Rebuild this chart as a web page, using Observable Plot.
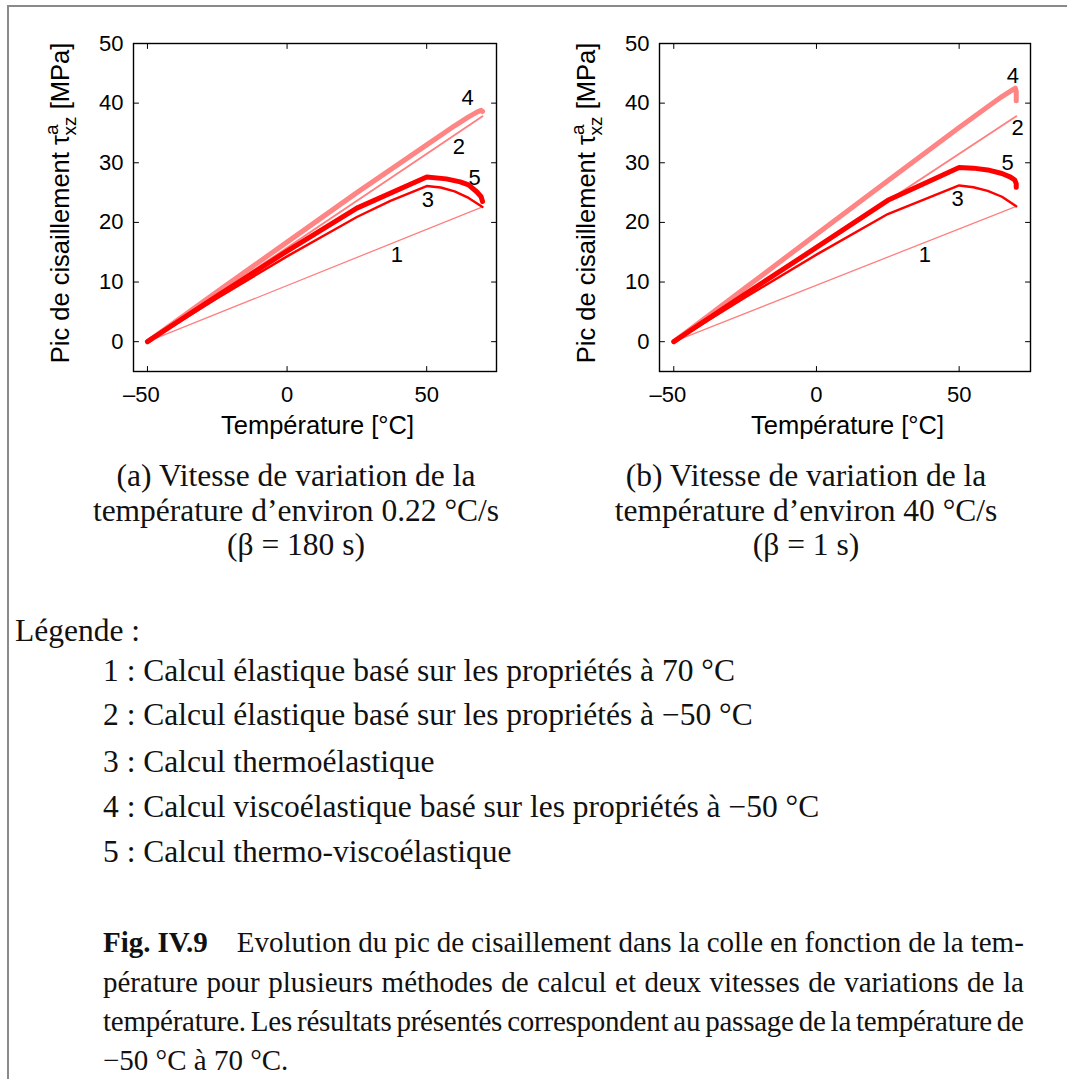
<!DOCTYPE html>
<html><head><meta charset="utf-8">
<script src="https://cdn.jsdelivr.net/npm/d3@7"></script>
<script src="https://cdn.jsdelivr.net/npm/@observablehq/plot@0.6"></script>
<style>
body{margin:0;background:#fff;}
#page{position:relative;width:1067px;height:1079px;overflow:hidden;background:#fff;}
#border{position:absolute;left:7px;top:5px;width:1100px;height:1100px;border-top:2px solid #8a8a8a;border-left:2px solid #8a8a8a;}
.plot{position:absolute;top:0;}
#txt{position:absolute;left:0;top:0;}
</style></head>
<body><div id="page"><div id="border"></div>
<svg id="txt" width="1067" height="1079"></svg>
<div id="pa" class="plot" style="left:0px"></div>
<div id="pb" class="plot" style="left:533px"></div>
</div>
<script>
// ---- data ----
const xTicks = [-50, 0, 50];
const yTicks = [0, 10, 20, 30, 40, 50];
const seriesIds = [1, 2, 3, 4, 5];

// panel (a) : 0.22 °C/s
const a1T = [-50, 70];
const a1V = [0, 22.6];
const a2T = [-50, 70];
const a2V = [0, 37.8];
const a3T = [-50, -25, 0, 25, 37, 50, 55, 60, 65, 70];
const a3V = [0, 7.3, 14.3, 20.9, 23.6, 26.1, 25.85, 25.2, 24.1, 22.6];
const a4T = [-50, -25, 0, 25, 50, 60, 65, 68, 69.5, 70];
const a4V = [0, 8.4, 16.7, 25.0, 33.0, 36.2, 37.7, 38.5, 38.8, 38.6];
const a5T = [-50, -25, 0, 25, 50, 57, 62, 65, 68, 69.5, 70];
const a5V = [0, 7.7, 15.2, 22.4, 27.6, 27.3, 26.8, 26.3, 25.1, 24.3, 23.5];
const aLabelT = [39.3, 61.5, 50.4, 64.7, 67.2];
const aLabelV = [14.6, 32.6, 23.7, 40.8, 27.5];

// panel (b) : 40 °C/s
const b1T = [-50, 70];
const b1V = [0, 22.7];
const b2T = [-50, 70];
const b2V = [0, 37.8];
const b3T = [-50, -25, 0, 25, 50, 55, 60, 65, 70];
const b3V = [0, 7.4, 14.6, 21.4, 26.2, 25.9, 25.3, 24.3, 22.7];
const b4T = [-50, -25, 0, 25, 50, 60, 65, 68, 69.7, 70, 70];
const b4V = [0, 9.0, 18.0, 27.0, 35.9, 39.4, 41.1, 42.0, 42.5, 42.0, 40.4];
const b5T = [-50, -25, 0, 25, 50, 55, 60, 65, 68, 69.5, 70, 70];
const b5V = [0, 8.0, 15.8, 23.7, 29.2, 29.1, 28.8, 28.2, 27.6, 27.1, 26.5, 25.9];
const bLabelT = [38.0, 70.5, 49.5, 68.8, 67.0];
const bLabelV = [14.6, 35.9, 24.0, 44.5, 29.9];

const captionA = ["(a) Vitesse de variation de la", "température d’environ 0.22 °C/s", "(β = 180 s)"];
const captionB = ["(b) Vitesse de variation de la", "température d’environ 40 °C/s", "(β = 1 s)"];
const legendTitle = "Légende :";
const legendItems = [
  "1 : Calcul élastique basé sur les propriétés à 70 °C",
  "2 : Calcul élastique basé sur les propriétés à −50 °C",
  "3 : Calcul thermoélastique",
  "4 : Calcul viscoélastique basé sur les propriétés à −50 °C",
  "5 : Calcul thermo-viscoélastique"
];
const figLabel = "Fig. IV.9";
const figLines = [
  "Evolution du pic de cisaillement dans la colle en fonction de la tem-",
  "pérature pour plusieurs méthodes de calcul et deux vitesses de variations de la",
  "température. Les résultats présentés correspondent au passage de la température de",
  "−50 °C à 70 °C."
];

// ---- styles ----
const styleOf = {
  1: {stroke: "#ff8080", w: 1.3},
  2: {stroke: "#ff8080", w: 1.9},
  3: {stroke: "#ff0000", w: 2.4},
  4: {stroke: "#ff8484", w: 5},
  5: {stroke: "#ff0000", w: 5}
};
const drawOrder = [1, 2, 4, 3, 5];
const SANS = "'Liberation Sans', Arial, Helvetica, sans-serif";
const SERIF = "'Liberation Serif', 'Times New Roman', serif";
const tickShape = {draw(ctx, l) { ctx.moveTo(0, 0); ctx.lineTo(0, -l); }};

function panel(curves, lt, lv, marginLeft, width, ylabelX) {
  const rows = curves.flatMap(([id, T, V]) => T.map((t, i) => ({id, t, v: V[i]})));
  const labels = seriesIds.map((id, i) => ({id, t: lt[i], v: lv[i]}));
  const H = 450, mt = 43, mb = 79, mr = 30;
  const vecs = (anchor, rot, ch) => Plot.vector(ch === "x" ? xTicks : yTicks,
    {[ch]: d => d, frameAnchor: anchor, rotate: rot, length: 5, anchor: "start", shape: tickShape, stroke: "#000", strokeWidth: 1});
  const svg = Plot.plot({
    width, height: H, marginLeft, marginRight: mr, marginTop: mt, marginBottom: mb,
    x: {domain: [-55, 75]},
    y: {domain: [-5, 50]},
    style: {fontFamily: SANS, fontSize: "22px", color: "#000", background: "transparent", overflow: "visible"},
    marks: [
      ...drawOrder.map(id => Plot.line(rows.filter(d => d.id === id), {
        x: "t", y: "v", stroke: styleOf[id].stroke, strokeWidth: styleOf[id].w,
        strokeLinejoin: "round", strokeLinecap: "round"})),
      Plot.text(labels, {x: "t", y: "v", text: "id", fill: "#000", fontSize: 22, fontFamily: SANS}),
      Plot.frame({stroke: "#000", strokeWidth: 1.4}),
      vecs("left", 90, "y"), vecs("right", -90, "y"), vecs("bottom", 0, "x"), vecs("top", 180, "x"),
      Plot.axisX(xTicks, {tickSize: 0, tickPadding: 15, label: null, fontSize: 22,
        tickFormat: d => d < 0 ? "–" + Math.abs(d) : String(d)}),
      Plot.axisY(yTicks, {tickSize: 0, tickPadding: 10, label: null, fontSize: 22})
    ]
  });
  const s = d3.select(svg);
  // minus sign hangs to the left of the centred digits
  s.selectAll("text").filter(function () { return this.textContent.startsWith("–"); }).attr("dx", -6);
  const cx = marginLeft + (width - marginLeft - mr) / 2;
  s.append("text").attr("x", cx + 3).attr("y", 434).attr("text-anchor", "middle")
    .attr("font-family", SANS).attr("font-size", 25.5).attr("fill", "#000").text("Température [°C]");
  const cy = mt + (H - mt - mb) / 2 - 4;
  const yl = s.append("text").attr("transform", `translate(${ylabelX},${cy}) rotate(-90)`)
    .attr("text-anchor", "middle").attr("font-family", SANS).attr("font-size", 25.5).attr("fill", "#000");
  yl.append("tspan").text("Pic de cisaillement τ");
  yl.append("tspan").attr("font-size", 19).attr("dy", -11).text("a");
  yl.append("tspan").attr("font-size", 19).attr("dx", -11).attr("dy", 18).text("xz");
  yl.append("tspan").attr("dy", -7).text(" [MPa]");
  return svg;
}

document.getElementById("pa").appendChild(panel(
  [[1, a1T, a1V], [2, a2T, a2V], [3, a3T, a3V], [4, a4T, a4V], [5, a5T, a5V]],
  aLabelT, aLabelV, 133, 526, 69));
document.getElementById("pb").appendChild(panel(
  [[1, b1T, b1V], [2, b2T, b2V], [3, b3T, b3V], [4, b4T, b4V], [5, b5T, b5V]],
  bLabelT, bLabelV, 126, 527, 62));

// ---- serif text ----
const T = d3.select("#txt");
const FS = 31.5;
function line(x, y, str, anchor = "start", fs = FS) {
  return T.append("text").attr("x", x).attr("y", y).attr("text-anchor", anchor)
    .attr("font-family", SERIF).attr("font-size", fs).attr("fill", "#111").text(str);
}
captionA.forEach((s, i) => line(296, 486 + i * 34.5, s, "middle"));
captionB.forEach((s, i) => line(806, 486 + i * 34.5, s, "middle"));
line(15, 641, legendTitle);
const legY = [681, 725, 772, 817, 862];
legendItems.forEach((s, i) => line(103, legY[i], s));
const figY = [952, 992, 1031, 1070];
const FW = 921, FFS = 29;
figLines.forEach((s, i) => {
  const t = T.append("text").attr("x", 103).attr("y", figY[i]).attr("font-family", SERIF)
    .attr("font-size", FFS).attr("fill", "#111");
  const full = i === 0 ? figLabel + "\u2003" + s : s;
  if (i === 0) {
    t.append("tspan").attr("font-weight", "bold").text(figLabel);
    t.append("tspan").text("\u2003" + s);
  } else t.text(s);
  if (i < figLines.length - 1) {
    const spaces = (s.match(/ /g) || []).length;
    const w = t.node().getComputedTextLength();
    const perSpace = (FW - w) / spaces;
    if (perSpace >= -2) {
      t.style("word-spacing", perSpace + "px");
    } else {
      const ls = (FW - w + 2 * spaces) / (full.length - 1);
      t.style("letter-spacing", ls + "px").style("word-spacing", "-2px");
    }
  }
});
</script>
</body></html>
